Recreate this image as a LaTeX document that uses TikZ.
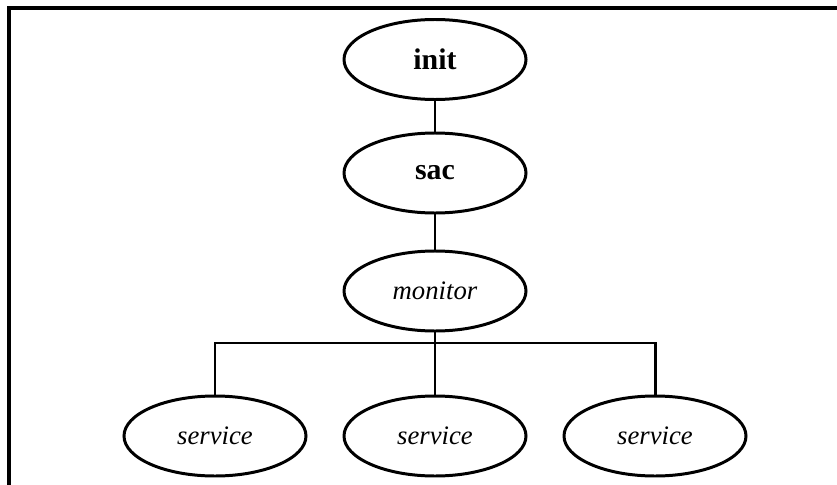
\documentclass[tikz,border=0pt]{standalone}
\usepackage{fontspec}
\setmainfont{Liberation Serif}
\usetikzlibrary{shapes.geometric}

\tikzset{
	proc/.style={ellipse,draw,line width=1.7pt,minimum width=3.64cm,minimum height=1.6cm,inner sep=0pt,font=\fontsize{15.2}{18}\selectfont\itshape},
	sysproc/.style={proc,font=\fontsize{17}{20}\selectfont\bfseries},
	link/.style={line width=1.7pt}
}

\begin{document}
\begin{tikzpicture}
	\useasboundingbox (0,0) rectangle (16.74,-9.7);
	\draw[line width=1.9pt] (16.74,-0.16) -- (0.18,-0.16) -- (0.18,-9.7);
	\node[sysproc] (init) at (8.7,-1.19) {init};
	\node[sysproc] (sac) at (8.7,-3.46) {sac};
	\node[proc] (monitor) at (8.7,-5.82) {monitor};
	\node[proc] (s1) at (4.3,-8.72) {service};
	\node[proc] (s2) at (8.7,-8.72) {service};
	\node[proc] (s3) at (13.1,-8.72) {service};
	\coordinate (bar) at (8.7,-6.86);
	\draw[link] (init) -- (sac);
	\draw[link] (sac) -- (monitor);
	\draw[link] (monitor) -- (s2);
	\draw[link] (s1.north) |- (bar) -| (s3.north);
\end{tikzpicture}
\end{document}
